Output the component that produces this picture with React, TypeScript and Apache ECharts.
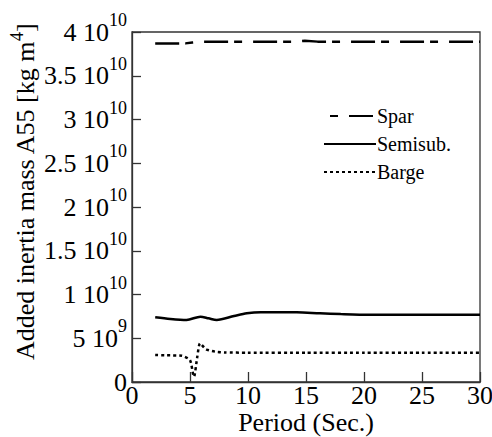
import React, { useEffect, useRef } from "react";
import * as echarts from "echarts";

// Period (s) and added inertia A55 (kg m^4) per platform type
const sparPeriod = [2, 3, 4, 4.6, 5.2, 6, 7, 8, 10, 12, 13.9, 14.9, 16, 18, 20, 25, 30];
const sparValue = [3.87e10, 3.87e10, 3.87e10, 3.87e10, 3.88e10, 3.89e10, 3.89e10, 3.89e10, 3.89e10, 3.89e10, 3.89e10, 3.9e10, 3.89e10, 3.89e10, 3.89e10, 3.89e10, 3.89e10];

const semiPeriod = [2, 3.3, 4.7, 5.9, 6.6, 7.3, 8.8, 9.9, 11.1, 14.2, 16.2, 18, 20.5, 25, 30];
const semiValue = [7.39e9, 7.2e9, 7.09e9, 7.47e9, 7.28e9, 7.09e9, 7.54e9, 7.85e9, 7.97e9, 7.97e9, 7.85e9, 7.76e9, 7.69e9, 7.69e9, 7.69e9];

const bargePeriod = [2, 3, 4.3, 5.0, 5.28, 5.35, 5.63, 5.86, 6.38, 7.16, 8, 10, 15, 20, 25, 30];
const bargeValue = [3.09e9, 3.05e9, 3.0e9, 2.51e9, 0.8e9, 0.6e9, 2.9e9, 4.42e9, 3.74e9, 3.47e9, 3.38e9, 3.35e9, 3.35e9, 3.35e9, 3.35e9, 3.35e9];

const seriesNames = ["Spar", "Semisub.", "Barge"];

// y tick labels: mantissa and exponent for 0, 5e9, 1e10 ... 4e10
const yTickMantissa = ["0", "5", "1", "1.5", "2", "2.5", "3", "3.5", "4"];
const yTickExponent = ["", "9", "10", "10", "10", "10", "10", "10", "10"];

const FONT = "Liberation Serif";

function pairs(xs: number[], ys: number[]) {
  return xs.map((x, i) => [x, ys[i]]);
}

export default function App() {
  const ref = useRef<HTMLDivElement>(null);
  useEffect(() => {
    if (!ref.current) return;
    const chart = echarts.init(ref.current, undefined, { renderer: "svg" });
    const axisColor = "#333";
    chart.setOption({
      animation: false,
      backgroundColor: "#fff",
      textStyle: { fontFamily: FONT },
      grid: {
        left: 132,
        right: 12,
        top: 32,
        bottom: 55,
        outerBoundsMode: "none",
        containLabel: false,
        show: true,
        borderColor: axisColor,
        borderWidth: 1.3,
      },
      legend: {
        data: seriesNames,
        orient: "vertical",
        left: 318,
        top: 101,
        itemWidth: 52,
        itemHeight: 14,
        itemGap: 8,
        itemStyle: { opacity: 0 },
        lineStyle: { dashOffset: 24 },
        textStyle: { fontFamily: FONT, fontSize: 20, color: "#000", lineHeight: 20, padding: [0, 0, 0, -4] },
      },
      xAxis: {
        type: "value",
        min: 0,
        max: 30,
        interval: 5,
        name: "Period (Sec.)",
        nameLocation: "middle",
        nameGap: 27,
        nameMoveOverlap: false,
        nameTextStyle: { fontFamily: FONT, fontSize: 26, lineHeight: 26, color: "#000" },
        axisLine: { show: true, lineStyle: { color: axisColor, width: 1.3 } },
        axisTick: { show: true, inside: true, length: 10, lineStyle: { color: axisColor, width: 1.3 } },
        axisLabel: { fontFamily: FONT, fontSize: 26, lineHeight: 26, color: "#000", margin: 0 },
        splitLine: { show: false },
      },
      yAxis: {
        type: "value",
        min: 0,
        max: 4e10,
        interval: 5e9,
        name: "{m|Added inertia mass A55 [kg m}{s|4}{m|]}",
        nameLocation: "middle",
        nameGap: 94,
        nameMoveOverlap: false,
        nameTextStyle: {
          fontFamily: FONT,
          color: "#000",
          padding: [0, 0, 0, 30],
          rich: {
            m: { fontFamily: FONT, fontSize: 26, lineHeight: 26, color: "#000" },
            s: { fontFamily: FONT, fontSize: 18, lineHeight: 18, padding: [0, 0, 16, 0], color: "#000" },
          },
        },
        axisLine: { show: true, lineStyle: { color: axisColor, width: 1.3 } },
        axisTick: { show: true, inside: true, length: 9, lineStyle: { color: axisColor, width: 1.3 } },
        axisLabel: {
          margin: 5,
          formatter: (v: number) => {
            const i = Math.round(v / 5e9);
            const exp = yTickExponent[i];
            if (!exp) return `{m|${yTickMantissa[i]}}`;
            return `{m|${yTickMantissa[i]} 10}{s|${exp}}`;
          },
          rich: {
            m: { fontFamily: FONT, fontSize: 26, lineHeight: 26, color: "#000" },
            s: { fontFamily: FONT, fontSize: 18, lineHeight: 18, padding: [0, 0, 24, 0], color: "#000" },
          },
        },
        splitLine: { show: false },
      },
      series: [
        {
          name: seriesNames[0],
          type: "line",
          data: pairs(sparPeriod, sparValue),
          symbol: "none",
          smooth: false,
          lineStyle: { color: "#000", width: 2.5, type: [24, 6, 8, 11] },
          itemStyle: { color: "#000" },
        },
        {
          name: seriesNames[1],
          type: "line",
          data: pairs(semiPeriod, semiValue),
          symbol: "none",
          smooth: 0.3,
          lineStyle: { color: "#000", width: 2.5, type: "solid" },
          itemStyle: { color: "#000" },
        },
        {
          name: seriesNames[2],
          type: "line",
          data: pairs(bargePeriod, bargeValue),
          symbol: "none",
          smooth: 0.2,
          lineStyle: { color: "#000", width: 2.5, type: [3, 3] },
          itemStyle: { color: "#000" },
        },
      ],
    });
    return () => chart.dispose();
  }, []);
  return <div ref={ref} style={{ width: 492, height: 437, position: "absolute", left: 0, top: 0 }} />;
}
